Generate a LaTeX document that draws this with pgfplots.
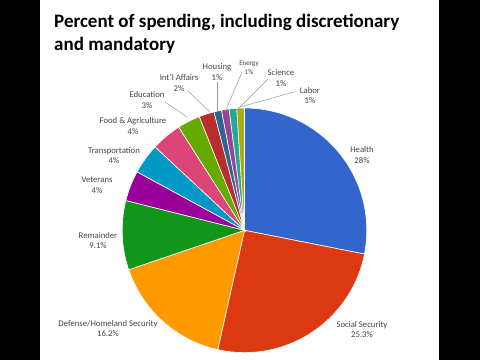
\documentclass[border=0pt]{standalone}
\usepackage{pgfplots}
\pgfplotsset{compat=1.18}
\usepackage{pgfplotstable}
\usepackage{fontspec}
\setmainfont{Carlito}
\definecolor{slice0}{HTML}{3366CC}
\definecolor{slice1}{HTML}{DC3912}
\definecolor{slice2}{HTML}{FF9900}
\definecolor{slice3}{HTML}{109618}
\definecolor{slice4}{HTML}{990099}
\definecolor{slice5}{HTML}{0099C6}
\definecolor{slice6}{HTML}{DD4477}
\definecolor{slice7}{HTML}{66AA00}
\definecolor{slice8}{HTML}{B82E2E}
\definecolor{slice9}{HTML}{316395}
\definecolor{slice10}{HTML}{994499}
\definecolor{slice11}{HTML}{22AA99}
\definecolor{slice12}{HTML}{AAAA11}
\definecolor{labtext}{HTML}{444444}
\definecolor{leader}{HTML}{999999}
% percent of spending, clockwise from 12 o'clock
\pgfplotstableread[col sep=comma]{
idx,value
0,28
1,25.3
2,16.2
3,9.1
4,4
5,4
6,4
7,3
8,2
9,1
10,1
11,1
12,1
}\spendtable
\newcommand\labfont{\fontsize{8.7bp}{10.5bp}\selectfont\color{labtext}}
\newcommand\smallfont{\fontsize{7bp}{8.5bp}\selectfont\color{labtext}}
\begin{document}
\begin{tikzpicture}
\fill[black] (0,0) rectangle (480bp,360bp);
\fill[white] (40bp,0) rectangle (439bp,360bp);
\begin{axis}[
  at={(0,0)}, anchor=south west,
  x=1bp, y=1bp, xmin=0, xmax=480, ymin=0, ymax=360,
  hide axis, clip=false, scale only axis,
]
\def\cx{244.5}
\def\cy{129.7}
\def\rr{122.3}
\def\total{99.6}
\def\cum{0}
\pgfplotstablegetrowsof{\spendtable}
\pgfmathtruncatemacro\nrows{\pgfplotsretval-1}
\pgfplotsforeachungrouped \i in {0,...,\nrows}{%
  \pgfplotstablegetelem{\i}{value}\of\spendtable
  \pgfmathsetmacro\aa{90-(\cum/\total)*360}%
  \pgfmathsetmacro\cumnew{\cum+\pgfplotsretval}%
  \pgfmathsetmacro\bb{90-(\cumnew/\total)*360}%
  \edef\doplot{\noexpand\addplot[fill=slice\i, draw=white, line width=0.6pt, domain=\bb:\aa, samples=60, variable=\noexpand\t] ({\cx+\rr*cos(\noexpand\t)}, {\cy+\rr*sin(\noexpand\t)}) -- (axis cs:\cx,\cy) -- cycle;}%
  \doplot
  \let\cum\cumnew
}
% leader lines
\draw[leader, line width=0.5pt] (axis cs:165,258) -- (axis cs:187,243);
\draw[leader, line width=0.5pt] (axis cs:188,269) -- (axis cs:210,248);
\draw[leader, line width=0.5pt] (axis cs:217,278) -- (axis cs:217,248);
\draw[leader, line width=0.5pt] (axis cs:245,288) -- (axis cs:242,288) -- (axis cs:225,248);
\draw[leader, line width=0.5pt] (axis cs:268,281) -- (axis cs:235,248);
\draw[leader, line width=0.5pt] (axis cs:294,268) -- (axis cs:240,253);
% labels
\node[align=center, font=\labfont] at (axis cs:362,205) {Health\\28\%};
\node[align=center, font=\labfont] at (axis cs:362,30.5) {Social Security\\25.3\%};
\node[align=center, font=\labfont] at (axis cs:108,31.5) {Defense/Homeland Security\\16.2\%};
\node[align=center, font=\labfont] at (axis cs:98,119.5) {Remainder\\9.1\%};
\node[align=center, font=\labfont] at (axis cs:97,175) {Veterans\\4\%};
\node[align=center, font=\labfont] at (axis cs:114,204.5) {Transportation\\4\%};
\node[align=center, font=\labfont] at (axis cs:133,234) {Food \& Agriculture\\4\%};
\node[align=center, font=\labfont] at (axis cs:147,260) {Education\\3\%};
\node[align=center, font=\labfont] at (axis cs:179,277) {Int'l Affairs\\2\%};
\node[align=center, font=\labfont] at (axis cs:217,288) {Housing\\1\%};
\node[align=center, font=\smallfont] at (axis cs:249,292) {Energy\\1\%};
\node[align=center, font=\labfont] at (axis cs:281,282) {Science\\1\%};
\node[align=center, font=\labfont] at (axis cs:310,264.5) {Labor\\1\%};
% title
\node[anchor=base west, inner sep=0pt, font=\fontsize{19bp}{23bp}\selectfont\bfseries] at (axis cs:54,333) {Percent of spending, including discretionary};
\node[anchor=base west, inner sep=0pt, font=\fontsize{19bp}{23bp}\selectfont\bfseries] at (axis cs:54,310) {and mandatory};
\end{axis}
\end{tikzpicture}
\end{document}
